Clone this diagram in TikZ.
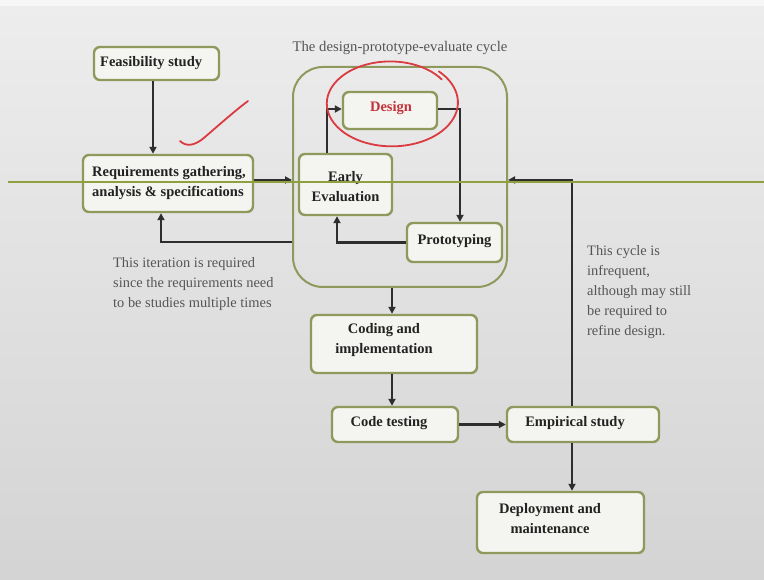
\documentclass[tikz,border=0pt]{standalone}
\usepackage{fontspec}
\setmainfont{Liberation Serif}
\usetikzlibrary{arrows.meta}
\definecolor{boxline}{HTML}{8E9A5C}
\definecolor{boxfill}{HTML}{F4F4F1}
\definecolor{hline}{HTML}{8FA03E}
\definecolor{arrowc}{HTML}{2E2E2E}
\definecolor{pen}{HTML}{DA3A40}
\definecolor{notec}{HTML}{555555}
\definecolor{txtc}{HTML}{222222}
\begin{document}
\begin{tikzpicture}[x=1pt,y=-1pt,
  box/.style={draw=boxline, line width=2.4pt, fill=boxfill, rounded corners=6pt, inner sep=0pt},
  cyclebox/.style={draw=boxline, line width=2pt, rounded corners=30pt, inner sep=0pt},
  btxt/.style={font=\fontsize{14.5}{20}\selectfont\bfseries, text=txtc, align=center, inner sep=0pt},
  note/.style={font=\fontsize{14.4}{20}\selectfont, text=notec, align=left, inner sep=0pt},
  arr/.style={draw=arrowc, line width=2.2pt, -{Triangle[length=7pt,width=7pt]}},
  redpen/.style={draw=pen, line width=1.8pt, line cap=round, line join=round}
]
\useasboundingbox (0,0) rectangle (764,580);
% background
\shade[top color=white!93!black, middle color=white!92!black, bottom color=white!83!black] (0,0) rectangle (764,580);
\fill[white!97!black] (0,0) rectangle (764,6);

% cycle box and title
\node[cyclebox, minimum width=214pt, minimum height=220pt] (cycle) at (400,177) {};
\node[font=\fontsize{14.7}{18}\selectfont, text=notec, inner sep=0pt] (title) at (400,48) {The design-prototype-evaluate cycle};

% boxes
\node[box, minimum width=125pt, minimum height=33pt] (feas) at (156.5,63.5) {};
\node[btxt, anchor=west] (feas-t) at (100,63) {Feasibility study};

\node[box, minimum width=170pt, minimum height=57pt] (req) at (168,183.5) {};
\node[btxt, anchor=west, align=left] (req-t) at (92,183) {Requirements gathering,\\analysis \& specifications};

\node[box, minimum width=94pt, minimum height=37pt] (design) at (390,110.5) {};
\node[btxt, text=pen!90!black] (design-t) at (391,108) {Design};

\node[box, minimum width=93pt, minimum height=61pt] (early) at (345.5,184.5) {};
\node[btxt] (early-t) at (345.5,186.5) {Early\\Evaluation};

\node[box, minimum width=95pt, minimum height=39pt] (proto) at (454.5,242.5) {};
\node[btxt] (proto-t) at (454.5,241.5) {Prototyping};

\node[box, minimum width=166pt, minimum height=58pt] (coding) at (394,344) {};
\node[btxt] (coding-t) at (384,340) {Coding and\\implementation};

\node[box, minimum width=126pt, minimum height=35pt] (test) at (395,424.5) {};
\node[btxt] (test-t) at (389,423) {Code testing};

\node[box, minimum width=152pt, minimum height=35pt] (emp) at (583,424.5) {};
\node[btxt] (emp-t) at (575,423) {Empirical study};

\node[box, minimum width=167pt, minimum height=61pt] (deploy) at (560.5,522.5) {};
\node[btxt] (deploy-t) at (550,518.5) {Deployment and\\maintenance};

% notes
\node[note, anchor=north west] (note1) at (113,257) {This iteration is required\\since the requirements need\\to be studies multiple times};
\node[note, anchor=north west] (note2) at (587,245) {This cycle is\\infrequent,\\although may still\\be required to\\refine design.};

% connectors
\coordinate (c180) at (0,180);
\coordinate (c242) at (0,242);
\draw[arr] ([xshift=-3.5pt]feas.south) -- ([xshift=-3.5pt]feas.south |- req.north);
\draw[arr] (req.east |- c180) -- (cycle.west |- c180);
\draw[arr] (cycle.west |- c242) -| ([xshift=-7pt]req.south);
\draw[arr] ([xshift=-18.5pt]early.north) |- ([yshift=1.5pt]design.west);
\draw[arr] ([yshift=1.5pt]design.east) -| ([xshift=5.5pt]proto.north);
\draw[arr] (proto.west) -| ([xshift=-8.5pt]early.south);
\draw[arr] ([xshift=-8pt]cycle.south) -- ([xshift=-8pt]cycle.south |- coding.north);
\draw[arr] ([xshift=-2pt]coding.south) -- ([xshift=-2pt]coding.south |- test.north);
\draw[arr] (test.east) -- (emp.west);
\draw[arr] ([xshift=-11pt]emp.north) |- (cycle.east |- c180);
\draw[arr] ([xshift=-11pt]emp.south) -- ([xshift=-11pt]emp.south |- deploy.north);

% green horizontal line
\draw[draw=hline, line width=1.8pt] (8,182) -- (764,182);

% red annotations
\draw[redpen] plot[smooth, domain=35:405, samples=80]
  ({391+62*(1+0.00025*(\x-35))*cos(\x)}, {103-41*(1+0.00025*(\x-35))*sin(\x)});
\draw[redpen] (180,141) .. controls (186,147) and (195,146) .. (205,137)
  .. controls (220,124) and (236,110) .. (248,101);
\end{tikzpicture}
\end{document}
